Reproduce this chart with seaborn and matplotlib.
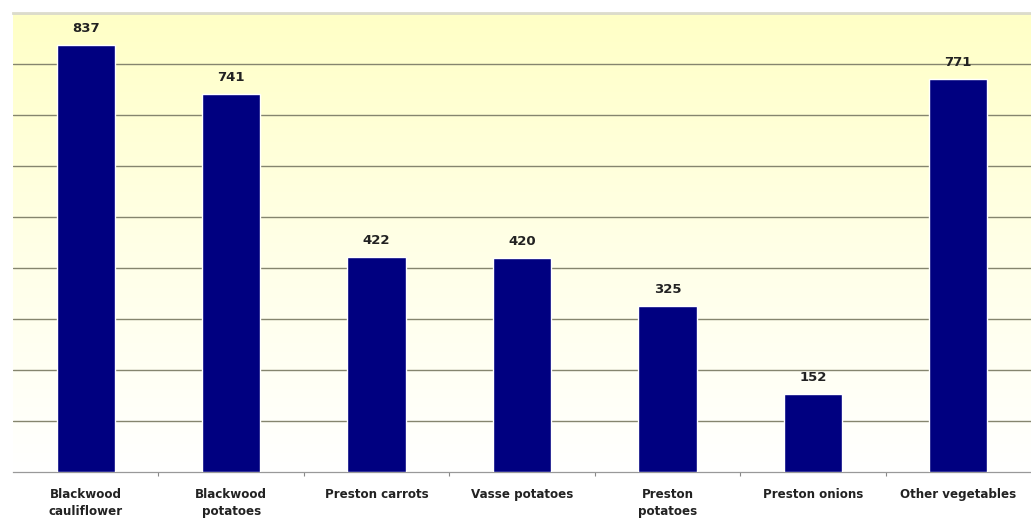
import numpy as np
import pandas as pd
import matplotlib
matplotlib.use("Agg")
import matplotlib.pyplot as plt
import seaborn as sns
from matplotlib.colors import LinearSegmentedColormap

categories = ["Blackwood\ncauliflower", "Blackwood\npotatoes", "Preston carrots",
              "Vasse potatoes", "Preston\npotatoes", "Preston onions", "Other vegetables"]
values = [837, 741, 422, 420, 325, 152, 771]

df = pd.DataFrame({"crop": categories, "value": values})

sns.set_style("white")
plt.rcParams["font.family"] = ["DejaVu Sans"]

fig = plt.figure(figsize=(10.31, 5.22), dpi=100)
ax = fig.add_axes([13 / 1031, 50 / 522, 1018 / 1031, 459 / 522])

# yellow-to-white vertical gradient behind the bars
cmap = LinearSegmentedColormap.from_list("bg", ["#ffffff", "#ffffe6", "#ffffc6"])
grad = np.linspace(0, 1, 256).reshape(-1, 1)
ax.imshow(grad, aspect="auto", cmap=cmap, origin="lower",
          extent=(-0.5, len(categories) - 0.5, 0, 900), zorder=0)

sns.barplot(data=df, x="crop", y="value", color="#000080", width=0.4,
            saturation=1, ax=ax, zorder=3)

ax.set_xlim(-0.5, len(categories) - 0.5)
ax.set_ylim(0, 900)
ax.set_yticks(np.arange(100, 901, 100))
ax.yaxis.grid(True, color="#85856e", linewidth=1.0, zorder=1)
ax.set_axisbelow(True)
ax.tick_params(axis="y", left=False, labelleft=False)

for i, v in enumerate(values):
    ax.text(i, v + 20, str(v), ha="center", va="bottom", fontsize=9.5,
            fontweight="bold", color="#222222", zorder=4)

ax.set_xticks(range(len(categories)))
ax.set_xticklabels(categories, fontsize=8.6, fontweight="bold", color="#222222",
                   linespacing=1.45)
ax.tick_params(axis="x", bottom=False, pad=8)
ax.set_xticks(np.arange(0.5, len(categories) - 0.5, 1), minor=True)
ax.tick_params(axis="x", which="minor", bottom=True, length=3, color="#888888", width=0.8)

ax.set_xlabel("")
ax.set_ylabel("")
ax.spines["right"].set_visible(False)
ax.spines["left"].set_visible(False)
ax.spines["bottom"].set_color("#999999")
ax.spines["bottom"].set_linewidth(0.9)
ax.spines["top"].set_color("#dcdccc")
ax.spines["top"].set_linewidth(2)

fig.savefig("out.png", dpi=100, facecolor="white")
